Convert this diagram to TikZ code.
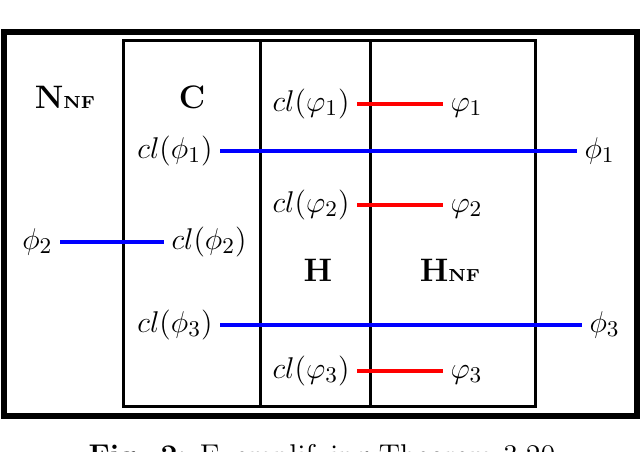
\documentclass[tikz,border=0pt]{standalone}
\usepackage{amsmath}
\definecolor{myblue}{RGB}{0,0,255}
\definecolor{myred}{RGB}{255,0,0}
\begin{document}
\begin{tikzpicture}[x=0.4pt,y=-0.4pt,
  frame/.style={line width=2.6pt},
  region/.style={line width=1.2pt},
  lbl/.style={inner sep=0pt,outer sep=3pt,font=\fontsize{12.5}{15}\selectfont},
  title/.style={inner sep=0pt,font=\fontsize{13}{16}\selectfont\bfseries},
  bluelink/.style={draw=myblue,line width=1.4pt},
  redlink/.style={draw=myred,line width=1.4pt}]
\clip (0,0) rectangle (640,452);
\fill[white] (0,0) rectangle (640,452);
% frames
\draw[frame] (4,32) rectangle (637,416);
\draw[region] (123,41) rectangle (370,407);
\draw[region] (260,41) rectangle (535,407);
% region titles
\node[title] (nnf) at (65,97) {N{\fontsize{7}{8}\selectfont NF}};
\node[title] (c) at (192,97) {C};
\node[title] (h) at (318,270) {H};
\node[title] (hnf) at (450,270) {H{\fontsize{7}{8}\selectfont NF}};
% labels
\node[lbl,anchor=east] (clv1) at (357,104) {$\vphantom{()}cl(\varphi_1)$};
\node[lbl,anchor=west] (v1) at (443,104) {$\vphantom{()}\varphi_1$};
\node[lbl,anchor=east] (clp1) at (220,151) {$\vphantom{()}cl(\phi_1)$};
\node[lbl,anchor=west] (p1) at (577,151) {$\vphantom{()}\phi_1$};
\node[lbl,anchor=east] (clv2) at (357,205) {$\vphantom{()}cl(\varphi_2)$};
\node[lbl,anchor=west] (v2) at (443,205) {$\vphantom{()}\varphi_2$};
\node[lbl,anchor=east] (p2) at (60,242) {$\vphantom{()}\phi_2$};
\node[lbl,anchor=west] (clp2) at (164,242) {$\vphantom{()}cl(\phi_2)$};
\node[lbl,anchor=east] (clp3) at (220,325) {$\vphantom{()}cl(\phi_3)$};
\node[lbl,anchor=west] (p3) at (582,325) {$\vphantom{()}\phi_3$};
\node[lbl,anchor=east] (clv3) at (357,371) {$\vphantom{()}cl(\varphi_3)$};
\node[lbl,anchor=west] (v3) at (443,371) {$\vphantom{()}\varphi_3$};
% connectors
\draw[redlink] (clv1.east) -- (v1.west);
\draw[redlink] (clv2.east) -- (v2.west);
\draw[redlink] (clv3.east) -- (v3.west);
\draw[bluelink] (clp1.east) -- (p1.west);
\draw[bluelink] (p2.east) -- (clp2.west);
\draw[bluelink] (clp3.east) -- (p3.west);
% caption (cut off by the picture edge, as in the reference)
\node[inner sep=0pt,anchor=base,font=\large] (cap) at (322,466) {\textbf{Fig. 2:} Exemplifying Theorem 3.20};
\end{tikzpicture}
\end{document}
